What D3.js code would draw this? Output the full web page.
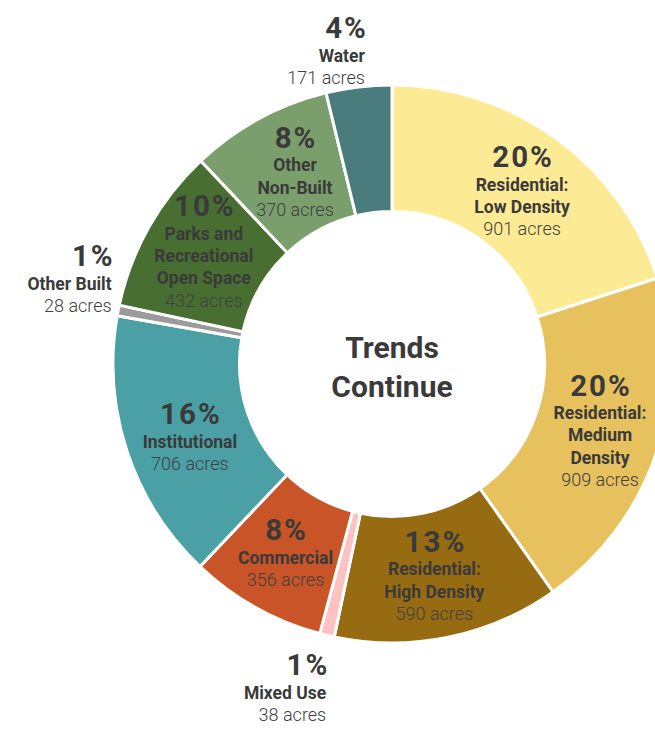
<!DOCTYPE html>
<html>
<head>
<meta charset="utf-8">
<script src="https://cdn.jsdelivr.net/npm/d3@7/dist/d3.min.js"></script>
<style>
  html, body { margin: 0; padding: 0; background: #fff; }
  svg { display: block; }
  text { font-family: Roboto, "Noto Sans", sans-serif; fill: #3a3a3a; }
</style>
</head>
<body>
<svg id="chart" width="655" height="734"></svg>
<script>
// ---- data ----
const categories = [
  "Residential: Low Density", "Residential: Medium Density", "Residential: High Density",
  "Mixed Use", "Commercial", "Institutional", "Other Built",
  "Parks and Recreational Open Space", "Other Non-Built", "Water"
];
const labelLines = [
  ["Residential:", "Low Density"],
  ["Residential:", "Medium", "Density"],
  ["Residential:", "High Density"],
  ["Mixed Use"],
  ["Commercial"],
  ["Institutional"],
  ["Other Built"],
  ["Parks and", "Recreational", "Open Space"],
  ["Other", "Non-Built"],
  ["Water"]
];
const acres = [901, 909, 590, 38, 356, 706, 28, 432, 370, 171];
const percentLabels = ["20%", "20%", "13%", "1%", "8%", "16%", "1%", "10%", "8%", "4%"];
const centerTitle = ["Trends", "Continue"];

// ---- styles / layout (not data) ----
const colors = ["#FDEA94", "#E7C15E", "#976B12", "#FFC1C1", "#C85427",
                "#4AA0A4", "#9B9B9B", "#486F31", "#7A9E6C", "#4A7C7D"];
// outside: label placed off the outer rim; dx/dy adjust block centre
const labelLayout = [
  {outside: false, dx: 3.6, dy: 1},
  {outside: false, dx: 4, dy: -1},
  {outside: false, dx: -1, dy: 1.5},
  {outside: true, dx: -1, dy: 54},
  {outside: false, dx: -1.5, dy: 1.5},
  {outside: false, dx: 2, dy: 5.5},
  {outside: true, dx: -7.5, dy: -31.5},
  {outside: false, dx: -1, dy: -7},
  {outside: false, dx: 5.5, dy: -3},
  {outside: true, dx: 6, dy: -36.7}
];

const cx = 392, cy = 364;
const outerR = 279, innerR = 152.5, labelR = 215;

const svg = d3.select("#chart");
const g = svg.append("g").attr("transform", `translate(${cx},${cy})`);

const data = categories.map((c, i) => ({
  name: c, value: acres[i], pct: percentLabels[i], lines: labelLines[i],
  color: colors[i], layout: labelLayout[i]
}));

const pie = d3.pie().value(d => d.value).sort(null).startAngle(0).endAngle(2 * Math.PI);
const arcs = pie(data);

const arc = d3.arc().innerRadius(innerR).outerRadius(outerR);
const labelArc = d3.arc().innerRadius(labelR).outerRadius(labelR);
const rimArc = d3.arc().innerRadius(outerR - 1).outerRadius(outerR - 1);

g.selectAll("path.slice")
  .data(arcs)
  .join("path")
  .attr("class", "slice")
  .attr("d", arc)
  .attr("fill", d => d.data.color)
  .attr("stroke", "#fff")
  .attr("stroke-width", 3)
  .attr("stroke-linejoin", "miter");

// labels
const pctToLabel = 23.5, lineGap = 22.3, labelToAcres = 22.4, pctCap = 20;
const pctSpacing = 2;

arcs.forEach(a => {
  const d = a.data, L = d.layout;
  const [px, py] = L.outside ? rimArc.centroid(a) : labelArc.centroid(a);
  const n = d.lines.length;
  const blockH = pctCap + pctToLabel + (n - 1) * lineGap + labelToAcres;
  const x = px + L.dx;
  const midY = py + L.dy;
  const pctBase = midY - blockH / 2 + pctCap;
  const anchor = L.outside ? "end" : "middle";
  const tg = g.append("g");
  tg.append("text")
    .attr("x", x + (L.outside ? pctSpacing + 1 : pctSpacing / 2)).attr("y", pctBase)
    .attr("text-anchor", anchor)
    .attr("font-size", 29.5).attr("font-weight", 700)
    .attr("letter-spacing", pctSpacing)
    .text(d.pct);
  d.lines.forEach((ln, j) => {
    tg.append("text")
      .attr("x", x).attr("y", pctBase + pctToLabel + j * lineGap)
      .attr("text-anchor", anchor)
      .attr("font-size", 17.5).attr("font-weight", 700)
      .text(ln);
  });
  tg.append("text")
    .attr("x", x).attr("y", pctBase + pctToLabel + (n - 1) * lineGap + labelToAcres)
    .attr("text-anchor", anchor)
    .attr("font-size", 18).attr("font-weight", 300)
    .style("fill", "#404040")
    .text(d3.format(",")(d.value) + " acres");
});

// centre title
centerTitle.forEach((t, i) => {
  g.append("text")
    .attr("x", 0).attr("y", -5.7 + i * 39)
    .attr("text-anchor", "middle")
    .attr("font-size", 30).attr("font-weight", 700)
    .text(t);
});
</script>
</body>
</html>
